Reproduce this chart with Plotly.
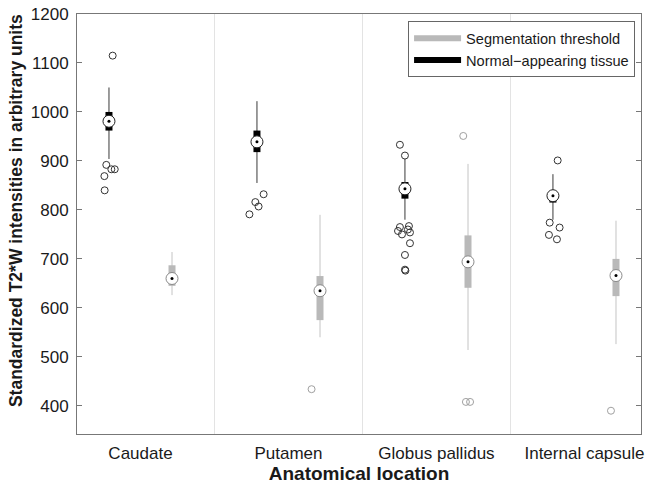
import plotly.graph_objects as go

categories = ["Caudate", "Putamen", "Globus pallidus", "Internal capsule"]

# Normal-appearing tissue
nat_whisker_low = [904, 855, 780, 780]
nat_q1 = [962, 918, 823, 815]
nat_median = [981, 939, 843, 829]
nat_q3 = [1000, 962, 857, 837]
nat_whisker_high = [1050, 1022, 904, 873]
nat_outliers = [
    [1115, 892, 883, 883, 869, 840],
    [832, 816, 807, 791],
    [933, 911, 767, 765, 760, 757, 754, 750, 732, 708, 678, 676],
    [901, 774, 764, 749, 740],
]

# Segmentation threshold
seg_whisker_low = [626, 540, 514, 526]
seg_q1 = [645, 575, 641, 624]
seg_median = [660, 635, 694, 666]
seg_q3 = [687, 665, 748, 700]
seg_whisker_high = [714, 790, 894, 778]
seg_outliers = [[], [434], [951, 408, 408], [390]]

# horizontal scatter of outlier markers (style only, fraction of group width)
nat_jitter = [
    [0.025, -0.018, 0.016, 0.039, -0.031, -0.029],
    [0.045, -0.011, 0.011, -0.051],
    [-0.034, 0.0, 0.027, -0.034, 0.020, -0.047, 0.034, -0.020, 0.034, 0.0, 0.0, 0.003],
    [0.032, -0.022, 0.045, -0.027, 0.027],
]
seg_jitter = [[], [-0.057], [-0.032, -0.014, 0.014], [-0.034]]

OFFSET = 0.213
BLACK = "#000000"
BLACK_WHISK = "#3a3a3a"
GREY = "#b9b9b9"
GREY_WHISK = "#c4c4c4"

fig = go.Figure()


def add_series(off, wlo, q1, med, q3, whi, outl, jit, box_col, whisk_col, out_col, med_line):
    xs_w, ys_w, xs_b, ys_b = [], [], [], []
    for i in range(len(categories)):
        p = i + 1 + off
        xs_w += [p, p, None]
        ys_w += [wlo[i], whi[i], None]
        xs_b += [p, p, None]
        ys_b += [q1[i], q3[i], None]
    fig.add_trace(go.Scatter(x=xs_w, y=ys_w, mode="lines",
                             line=dict(color=whisk_col, width=1), showlegend=False, hoverinfo="skip"))
    fig.add_trace(go.Scatter(x=xs_b, y=ys_b, mode="lines",
                             line=dict(color=box_col, width=7), showlegend=False, hoverinfo="skip"))
    ox, oy = [], []
    for i in range(len(categories)):
        for v, j in zip(outl[i], jit[i]):
            ox.append(i + 1 + off + j)
            oy.append(v)
    fig.add_trace(go.Scatter(x=ox, y=oy, mode="markers",
                             marker=dict(symbol="circle-open", size=7, color=out_col, line=dict(width=1)),
                             showlegend=False))
    mx = [i + 1 + off for i in range(len(categories))]
    fig.add_trace(go.Scatter(x=mx, y=med, mode="markers",
                             marker=dict(symbol="circle", size=12, color="white",
                                         line=dict(color=med_line, width=1)),
                             showlegend=False))
    fig.add_trace(go.Scatter(x=mx, y=med, mode="markers",
                             marker=dict(symbol="circle", size=3, color="black"),
                             showlegend=False))


add_series(-OFFSET, nat_whisker_low, nat_q1, nat_median, nat_q3, nat_whisker_high,
           nat_outliers, nat_jitter, BLACK, BLACK_WHISK, "#333333", "#222222")
add_series(OFFSET, seg_whisker_low, seg_q1, seg_median, seg_q3, seg_whisker_high,
           seg_outliers, seg_jitter, GREY, GREY_WHISK, "#a0a0a0", "#8a8a8a")

# legend entries
fig.add_trace(go.Scatter(x=[None], y=[None], mode="lines", name="Segmentation threshold",
                         line=dict(color=GREY, width=6)))
fig.add_trace(go.Scatter(x=[None], y=[None], mode="lines", name="Normal\u2212appearing tissue",
                         line=dict(color=BLACK, width=6)))

# group separators
for s in [1.5, 2.5, 3.5]:
    fig.add_shape(type="line", x0=s, x1=s, y0=0, y1=1, xref="x", yref="paper",
                  line=dict(color="#e3e3e3", width=1), layer="below")

# y axis title
fig.add_annotation(text="<b>Standardized T2*W intensities in arbitrary units</b>",
                   textangle=-90, xref="paper", yref="paper", x=-0.108, y=0.531,
                   xanchor="center", yanchor="middle", showarrow=False,
                   font=dict(size=17.5))

FONT = "Liberation Sans, Arial, sans-serif"
fig.update_layout(
    width=652, height=487,
    margin=dict(l=77, r=11, t=14, b=53),
    plot_bgcolor="white", paper_bgcolor="white",
    font=dict(family=FONT, color="#1a1a1a", size=17),
    legend=dict(x=0.587, y=0.983, xanchor="left", yanchor="top",
                bordercolor="#666666", borderwidth=1, bgcolor="white",
                font=dict(size=14.6, family=FONT), itemwidth=47,
                tracegroupgap=0),
    xaxis=dict(range=[0.571, 4.382], tickvals=[1, 2, 3, 4], ticktext=categories,
               showline=True, linecolor="#777777", mirror=True, ticks="",
               showgrid=False, zeroline=False, tickfont=dict(size=17),
               automargin=False, ticklabelstandoff=4,
               title=dict(text="<b>Anatomical location</b>", font=dict(size=19), standoff=0)),
    yaxis=dict(range=[342.5, 1200], tickvals=[400, 500, 600, 700, 800, 900, 1000, 1100, 1200],
               showline=True, linecolor="#777777", mirror="ticks", ticks="inside",
               ticklen=5, tickcolor="#777777", showgrid=False, zeroline=False,
               tickfont=dict(size=17), automargin=False, ticklabelstandoff=4),
)

fig.write_html("out.html", config={"displayModeBar": False},
               post_script="document.body.style.margin='0';"
                           "document.documentElement.style.overflow='hidden';")
